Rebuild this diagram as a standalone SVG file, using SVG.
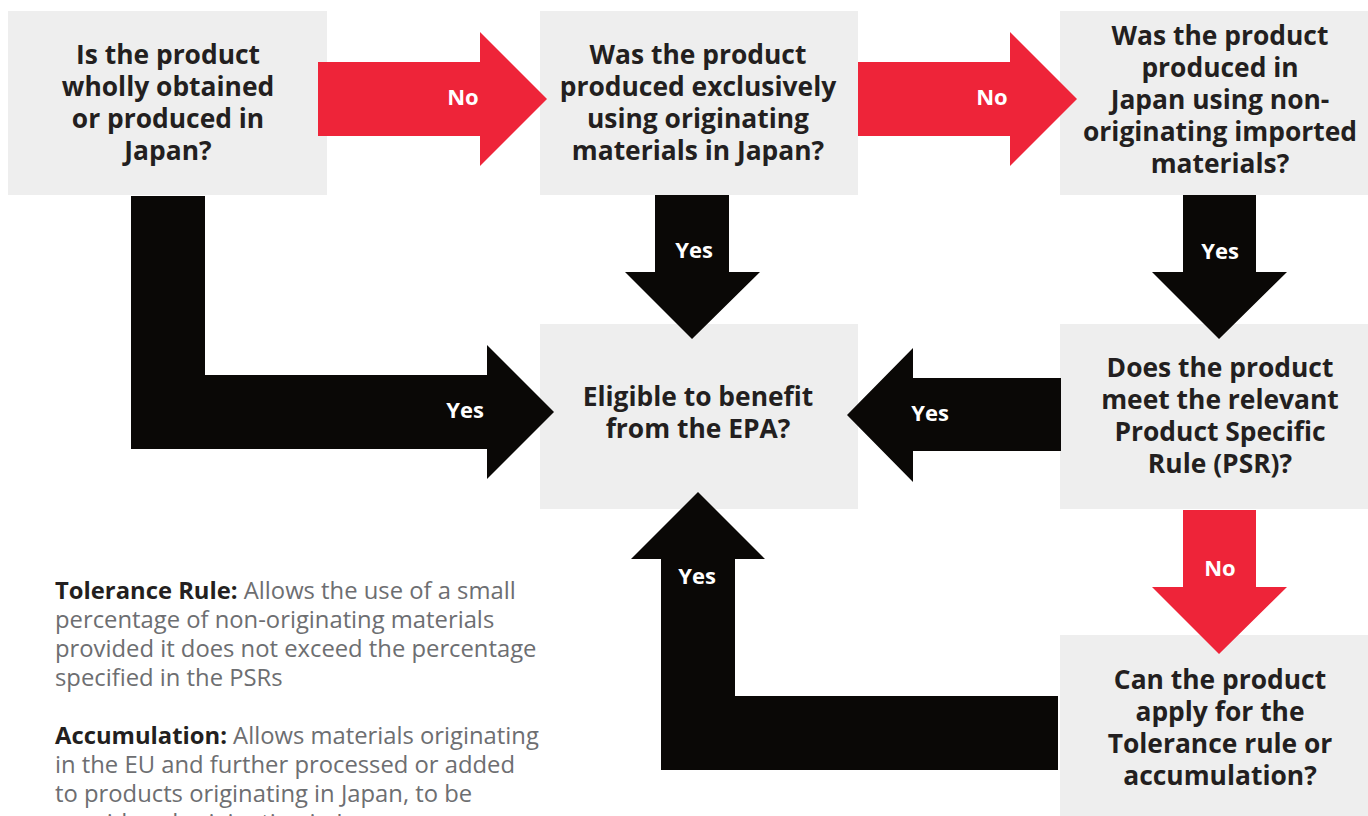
<svg xmlns="http://www.w3.org/2000/svg" width="1368" height="816" viewBox="0 0 1368 816">
<style>
.box{fill:#eeeeee}
.q{font-family:"Open Sans","Liberation Sans",sans-serif;font-weight:bold;font-size:26.4px;fill:#231f20;text-anchor:middle}
.red{fill:#ee2439}
.blk{fill:#0a0806}
.lbl{font-family:"Open Sans","Liberation Sans",sans-serif;font-weight:bold;font-size:22px;fill:#ffffff;text-anchor:middle}
.note{font-family:"Open Sans","Liberation Sans",sans-serif;font-size:23.8px;fill:#6d6e71}
.note .b{font-weight:bold;fill:#231f20}
</style>
<rect width="1368" height="816" fill="#ffffff"/>
<g id="n1"><rect class="box" x="8" y="11" width="319" height="184"/>
<text class="q" y="64"><tspan x="168">Is the product</tspan><tspan x="168" dy="32">wholly obtained</tspan><tspan x="168" dy="32">or produced in</tspan><tspan x="168" dy="32">Japan?</tspan></text></g>
<g id="n2"><rect class="box" x="540" y="11" width="318" height="184"/>
<text class="q" y="64"><tspan x="698">Was the product</tspan><tspan x="698" dy="32">produced exclusively</tspan><tspan x="698" dy="32">using originating</tspan><tspan x="698" dy="32">materials in Japan?</tspan></text></g>
<g id="n3"><rect class="box" x="1060" y="11" width="308" height="184"/>
<text class="q" y="45"><tspan x="1220">Was the product</tspan><tspan x="1220" dy="32">produced in</tspan><tspan x="1220" dy="32">Japan using non-</tspan><tspan x="1220" dy="32">originating imported</tspan><tspan x="1220" dy="32">materials?</tspan></text></g>
<g id="n4"><rect class="box" x="540" y="324" width="318" height="185"/>
<text class="q" y="406"><tspan x="698">Eligible to benefit</tspan><tspan x="698" dy="32">from the EPA?</tspan></text></g>
<g id="n5"><rect class="box" x="1060" y="324" width="308" height="185"/>
<text class="q" y="377"><tspan x="1220">Does the product</tspan><tspan x="1220" dy="32">meet the relevant</tspan><tspan x="1220" dy="32">Product Specific</tspan><tspan x="1220" dy="32">Rule (PSR)?</tspan></text></g>
<g id="n6"><rect class="box" x="1060" y="635" width="308" height="181"/>
<text class="q" y="689"><tspan x="1220">Can the product</tspan><tspan x="1220" dy="32">apply for the</tspan><tspan x="1220" dy="32">Tolerance rule or</tspan><tspan x="1220" dy="32">accumulation?</tspan></text></g>
<g id="connectors">
<polygon class="red" points="318,62 480,62 480,32 547,99 480,166 480,136 318,136"/>
<text class="lbl" x="463" y="105">No</text>
<polygon class="red" points="858,62 1010,62 1010,32 1077,99 1010,166 1010,136 858,136"/>
<text class="lbl" x="992" y="105">No</text>
<polygon class="blk" points="131,196 205,196 205,375 487,375 487,345 554,412 487,479 487,449 131,449"/>
<text class="lbl" x="465" y="418">Yes</text>
<polygon class="blk" points="655,195 729,195 729,272 760,272 692,339 625,272 655,272"/>
<text class="lbl" x="694" y="258">Yes</text>
<polygon class="blk" points="1183,195 1256,195 1256,272 1287,272 1219,339 1152,272 1183,272"/>
<text class="lbl" x="1220" y="259">Yes</text>
<polygon class="red" points="1183,510 1256,510 1256,587 1287,587 1219,654 1152,587 1183,587"/>
<text class="lbl" x="1220" y="576">No</text>
<polygon class="blk" points="1061,378 913,378 913,348 847,415 913,482 913,451 1061,451"/>
<text class="lbl" x="930" y="421">Yes</text>
<polygon class="blk" points="1058,696 735,696 735,559 765,559 698,492 631,559 661,559 661,770 1058,770"/>
<text class="lbl" x="697" y="584">Yes</text>
</g>
<g id="notes">
<text class="note" y="599"><tspan x="55"><tspan class="b">Tolerance Rule:</tspan> Allows the use of a small</tspan><tspan x="55" dy="29">percentage of non-originating materials</tspan><tspan x="55" dy="29">provided it does not exceed the percentage</tspan><tspan x="55" dy="29">specified in the PSRs</tspan></text>
<text class="note" y="744"><tspan x="55"><tspan class="b">Accumulation:</tspan> Allows materials originating</tspan><tspan x="55" dy="29">in the EU and further processed or added</tspan><tspan x="55" dy="29">to products originating in Japan, to be</tspan><tspan x="55" dy="29">considered originating in Japan</tspan></text>
</g>
</svg>
